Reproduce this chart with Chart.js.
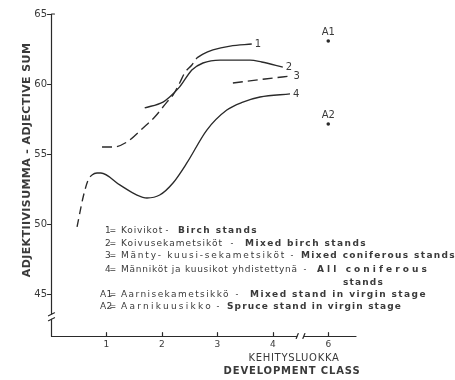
<!DOCTYPE html>
<html>
<head>
<meta charset="utf-8">
<script src="https://cdn.jsdelivr.net/npm/chart.js@4"></script>
<style>
  html, body { margin: 0; padding: 0; background: #ffffff; }
  canvas { display: block; }
</style>
</head>
<body>
<canvas id="chart" width="455" height="380"></canvas>
<script>
// Development classes: class 6 sits at position 5, just after the axis break
const classTicks = [1, 2, 3, 4, 5];
const classTickLabels = ['1', '2', '3', '4', '6'];
const adjectiveTicks = [45, 50, 55, 60, 65];

// 1 = Birch stands
const birchX = [2.63, 2.74, 2.92, 3.23, 3.62];
const birchY = [61.86, 62.14, 62.43, 62.71, 62.86];

// 2 = Mixed birch stands
const mixedBirchX = [1.69, 2.02, 2.14, 2.32, 2.54, 2.74, 3.05, 3.59, 3.80, 4.18];
const mixedBirchY = [58.29, 58.71, 59.07, 59.79, 61.0, 61.5, 61.71, 61.71, 61.57, 61.21];

// 3 = Mixed coniferous stands (dashed, with a gap)
const mixedConiferX = [0.92, 1.12, 1.37, 1.66, 1.87, 2.09, 2.20, 2.32, 2.41, 2.54, 2.63, 3.0, 3.28, 3.86, 4.32];
const mixedConiferY = [55.5, 55.5, 55.86, 56.86, 57.64, 58.71, 59.21, 60.07, 60.79, 61.36, 61.86, null, 60.07, 60.36, 60.57];

// 4 = All coniferous stands (dashed at the start)
const allConiferX = [0.47, 0.58, 0.67, 0.74, 0.83, 0.90, 1.24, 1.55, 1.73, 1.96, 2.20, 2.45, 2.81, 3.17, 3.46, 3.77, 4.31];
const allConiferY = [49.79, 51.93, 53.14, 53.5, 53.64, 53.64, 52.79, 52.07, 51.86, 52.07, 52.93, 54.36, 56.71, 58.14, 58.71, 59.07, 59.29];
const allConiferDashedUntil = 0.74;

// A1, A2 = stands in virgin stage (class 6)
const virginX = [5, 5];
const virginY = [63.07, 57.14];
const virginNames = ['A1', 'A2'];

const curveNames = ['1', '2', '3', '4'];

// Key text
const keyIds = ['1', '2', '3', '4', 'A1', 'A2'];
const keyFinnish = ['Koivikot', 'Koivusekametsiköt', 'Mänty- kuusi-sekametsiköt',
  'Männiköt ja kuusikot yhdistettynä', 'Aarnisekametsikkö', 'Aarnikuusikko'];
const keyEnglish = ['Birch stands', 'Mixed birch stands', 'Mixed coniferous stands',
  'All coniferous', 'Mixed stand in virgin stage', 'Spruce stand in virgin stage'];
const keyEnglishWrap = ['', '', '', 'stands', '', ''];

const yTitle = 'ADJEKTIIVISUMMA - ADJECTIVE SUM';
const xTitle = ['KEHITYSLUOKKA', 'DEVELOPMENT CLASS'];

const INK = '#2a2a2a';
const TEXT = '#3a3a3a';

const pts = (xs, ys) => xs.map((x, i) => ({ x: x, y: ys[i] }));

const lineBase = {
  borderColor: INK,
  borderWidth: 1.35,
  pointRadius: 0,
  fill: false,
  cubicInterpolationMode: 'monotone',
  spanGaps: false
};

// Key layout (pixels): row centres, and the span of each text run in a row
const keyRowY = [231, 244, 256, 270, 295, 307];
const keyFinnishRight = [163, 223, 286, 298, 230, 213];
const keyDashX = [167, 232, 292, 305, 237, 218];
const keyEnglishLeft = [178, 245, 301, 317, 250, 227];
const keyEnglishRight = [258, 367, 456, 430, 427, 402];

// Draws a text run spread out so that it spans from x0 to x1
function fitText(ctx, text, x0, x1, y) {
  ctx.letterSpacing = '0px';
  const natural = ctx.measureText(text).width;
  const sp = Math.max(0, (x1 - x0 - natural) / text.length);
  ctx.letterSpacing = sp.toFixed(2) + 'px';
  ctx.fillText(text, x0, y);
}

// Axes with breaks, inward x ticks, titles, curve labels and the key
const decorations = {
  id: 'decorations',
  afterDraw(chart) {
    const ctx = chart.ctx;
    const xs = chart.scales.x, ys = chart.scales.y;
    const ax = chart.chartArea.left + 0.5;
    const ay = chart.chartArea.bottom + 0.5;
    ctx.save();
    ctx.strokeStyle = INK;
    ctx.lineWidth = 1.2;
    ctx.lineCap = 'round';

    // y axis, broken near the bottom
    const yTop = ys.getPixelForValue(65);
    const yb1 = ys.getPixelForValue(43.55), yb2 = ys.getPixelForValue(43.2);
    ctx.beginPath();
    ctx.moveTo(ax, yTop); ctx.lineTo(ax, yb1);
    ctx.moveTo(ax, yb2); ctx.lineTo(ax, ay);
    ctx.moveTo(ax - 3, yb1 + 1.5); ctx.lineTo(ax + 3, yb1 - 1.5);
    ctx.moveTo(ax - 3, yb2 + 1.5); ctx.lineTo(ax + 3, yb2 - 1.5);
    ctx.moveTo(ax, yTop); ctx.lineTo(ax + 3, yTop);
    adjectiveTicks.forEach(v => {
      const p = Math.round(ys.getPixelForValue(v)) + 0.5;
      ctx.moveTo(ax - 4, p); ctx.lineTo(ax, p);
    });
    ctx.stroke();

    // x axis, broken between class 4 and class 6
    const xRight = chart.chartArea.right;
    const xb1 = xs.getPixelForValue(4.44), xb2 = xs.getPixelForValue(4.56);
    ctx.beginPath();
    ctx.moveTo(ax, ay); ctx.lineTo(xb1, ay);
    ctx.moveTo(xb2, ay); ctx.lineTo(xRight, ay);
    ctx.moveTo(xb1 - 1, ay + 2); ctx.lineTo(xb1 + 1, ay - 3);
    ctx.moveTo(xb2 - 1, ay + 2); ctx.lineTo(xb2 + 1, ay - 3);
    classTicks.forEach(v => {
      const p = Math.round(xs.getPixelForValue(v)) + 0.5;
      ctx.moveTo(p, ay); ctx.lineTo(p, ay - 4);
    });
    ctx.stroke();

    ctx.fillStyle = TEXT;
    ctx.textBaseline = 'middle';

    // y title
    ctx.save();
    ctx.translate(27, 160);
    ctx.rotate(-Math.PI / 2);
    ctx.font = 'bold 11px "DejaVu Sans"';
    ctx.letterSpacing = '0.4px';
    ctx.textAlign = 'center';
    ctx.fillText(yTitle, 0, 0);
    ctx.restore();

    // x titles
    ctx.textAlign = 'center';
    ctx.font = '10px "DejaVu Sans"';
    ctx.letterSpacing = '0.7px';
    ctx.fillText(xTitle[0], 294, 358);
    ctx.font = 'bold 10px "DejaVu Sans"';
    ctx.letterSpacing = '0.85px';
    ctx.fillText(xTitle[1], 292, 371);

    // curve end labels
    ctx.textAlign = 'left';
    ctx.font = '10px "DejaVu Sans"';
    ctx.letterSpacing = '0px';
    curveNames.forEach((name, i) => {
      const els = chart.getDatasetMeta(i).data.filter(e => !e.skip);
      const last = els[els.length - 1];
      ctx.fillText(name, last.x + 3, last.y);
    });

    // virgin stand labels
    ctx.textAlign = 'center';
    const vm = chart.getDatasetMeta(4).data;
    virginNames.forEach((name, i) => {
      ctx.fillText(name, vm[i].x, vm[i].y - 9);
    });

    // key
    keyIds.forEach((id, i) => {
      const y = keyRowY[i];
      ctx.textAlign = 'left';
      ctx.font = '9px "DejaVu Sans"';
      ctx.letterSpacing = '0.3px';
      ctx.fillText(id, id.length > 1 ? 100 : 105, y);
      ctx.textAlign = 'center';
      ctx.font = '8px "DejaVu Sans"';
      ctx.fillText('=', 113, y);
      ctx.fillText('-', keyDashX[i], y);
      ctx.textAlign = 'left';
      ctx.font = '9px "DejaVu Sans"';
      fitText(ctx, keyFinnish[i], 121, keyFinnishRight[i], y);
      ctx.font = 'bold 9px "DejaVu Sans"';
      fitText(ctx, keyEnglish[i], keyEnglishLeft[i], keyEnglishRight[i], y);
      if (keyEnglishWrap[i]) {
        fitText(ctx, keyEnglishWrap[i], 343, 384, y + 13);
      }
    });
    ctx.restore();
  }
};

new Chart(document.getElementById('chart'), {
  type: 'line',
  data: {
    datasets: [
      Object.assign({ label: '1', data: pts(birchX, birchY) }, lineBase),
      Object.assign({ label: '2', data: pts(mixedBirchX, mixedBirchY) }, lineBase),
      Object.assign({ label: '3', data: pts(mixedConiferX, mixedConiferY), borderDash: [10, 5] }, lineBase),
      Object.assign({
        label: '4', data: pts(allConiferX, allConiferY),
        segment: { borderDash: c => (c.p1.parsed.x <= allConiferDashedUntil ? [8, 5] : undefined) }
      }, lineBase),
      {
        label: 'A', data: pts(virginX, virginY), showLine: false,
        pointRadius: 1.8, pointBackgroundColor: INK, pointBorderColor: INK, borderWidth: 0
      }
    ]
  },
  options: {
    responsive: false,
    animation: false,
    devicePixelRatio: 1,
    layout: { padding: { top: 14, right: 99, bottom: 0, left: 0 } },
    plugins: { legend: { display: false }, tooltip: { enabled: false } },
    scales: {
      x: {
        type: 'linear', min: 0, max: 5.5,
        grid: { display: false, drawTicks: false, tickLength: 0 }, border: { display: false },
        afterBuildTicks: s => { s.ticks = classTicks.map(v => ({ value: v })); },
        afterFit: s => { s.height = 44; },
        ticks: {
          autoSkip: false, maxRotation: 0, padding: 3, color: TEXT,
          font: { family: 'DejaVu Sans', size: 9 },
          callback: v => { const i = classTicks.indexOf(v); return i >= 0 ? classTickLabels[i] : ''; }
        }
      },
      y: {
        type: 'linear', min: 42, max: 65,
        grid: { display: false, drawTicks: false, tickLength: 0 }, border: { display: false },
        afterBuildTicks: s => { s.ticks = adjectiveTicks.map(v => ({ value: v })); },
        afterFit: s => { s.width = 51; },
        ticks: {
          autoSkip: false, padding: 4, color: TEXT,
          font: { family: 'DejaVu Sans', size: 10 }
        }
      }
    }
  },
  plugins: [decorations]
});
</script>
</body>
</html>
